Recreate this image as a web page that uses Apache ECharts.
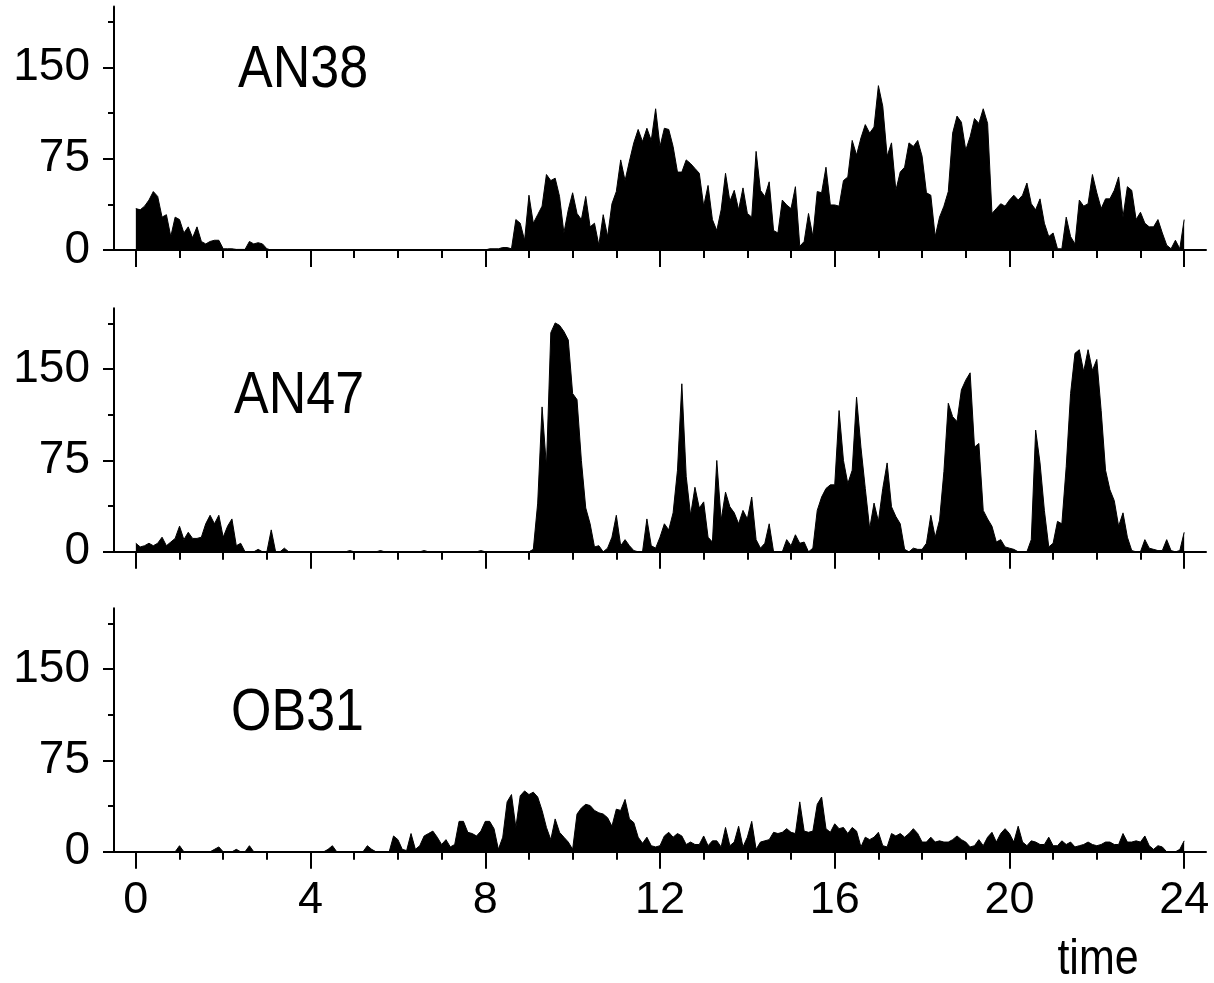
<!DOCTYPE html>
<html>
<head>
<meta charset="utf-8">
<script src="https://cdn.jsdelivr.net/npm/echarts@6/dist/echarts.min.js"></script>
<style>
html,body{margin:0;padding:0;background:#fff;}
#chart{width:1214px;height:983px;}
</style>
</head>
<body>
<div id="chart"></div>
<script>
// sampling step of the series (hours)
const STEP = 0.1;

// activity values, one row per hour (t = h.0 ... h.9), last value at t = 24
const AN38 = [
  34, 33, 36, 41, 48, 44, 27, 29, 11, 27,
  25, 14, 19, 10, 19, 7, 5, 7, 8, 8,
  1, 1, 1, 0.5, 0.5, 0.5, 7, 5, 6, 5,
  1, 0, 0, 0, 0, 0, 0, 0, 0, 0,
  0, 0, 0, 0, 0, 0, 0, 0, 0, 0,
  0, 0, 0, 0, 0, 0, 0, 0, 0, 0,
  0, 0, 0, 0, 0, 0, 0, 0, 0, 0,
  0, 0, 0, 0, 0, 0, 0, 0, 0, 0,
  0, 1, 1, 1, 2, 2, 1, 25, 22, 8,
  45, 22, 29, 36, 62, 57, 59, 44, 14, 33,
  47, 30, 25, 44, 19, 22, 4, 29, 11, 38,
  48, 74, 57, 73, 88, 99, 89, 100, 90, 116,
  85, 100, 99, 85, 64, 64, 74, 71, 67, 63,
  36, 53, 25, 16, 33, 63, 40, 49, 33, 51,
  30, 27, 81, 49, 44, 56, 16, 14, 41, 37,
  34, 52, 3, 7, 30, 11, 48, 47, 68, 37,
  37, 36, 57, 60, 90, 78, 92, 103, 96, 101,
  135, 118, 77, 88, 49, 64, 68, 88, 85, 90,
  77, 47, 45, 11, 27, 36, 48, 96, 110, 105,
  82, 93, 108, 104, 116, 104, 30, 34, 38, 36,
  41, 45, 41, 45, 55, 38, 33, 42, 22, 11,
  14, 1, 1, 27, 11, 5, 41, 36, 38, 62,
  47, 34, 42, 42, 49, 60, 27, 52, 49, 25,
  31, 22, 19, 19, 25, 14, 4, 1, 8, 1,
  25
];

const AN47 = [
  7, 4, 5, 7, 5, 7, 12, 5, 8, 11,
  21, 10, 16, 11, 11, 12, 23, 30, 23, 30,
  12, 21, 27, 5, 7, 0, 0, 0, 2, 0,
  0, 18, 0, 0, 3, 0, 0, 0, 0, 0,
  0, 0, 0, 0, 0, 0, 0, 0, 0, 1,
  0, 0, 0, 0, 0, 0, 1, 0, 0, 0,
  0, 0, 0, 0, 0, 0, 1, 0, 0, 0,
  0, 0, 0, 0, 0, 0, 0, 0, 0, 1,
  0, 0, 0, 0, 0, 0, 0, 0, 0, 0,
  0, 2, 40, 119, 70, 180, 188, 186, 181, 174,
  130, 125, 75, 36, 23, 4, 5, 0, 3, 12,
  30, 5, 10, 5, 1, 0, 0, 27, 5, 3,
  12, 23, 18, 32, 67, 138, 62, 30, 53, 36,
  41, 12, 8, 75, 26, 49, 37, 32, 23, 34,
  27, 45, 10, 3, 7, 23, 0, 0, 0, 10,
  5, 14, 7, 8, 0, 3, 34, 45, 52, 55,
  55, 116, 75, 56, 67, 127, 86, 52, 19, 40,
  25, 52, 73, 37, 29, 23, 2, 0, 3, 2,
  2, 7, 30, 12, 26, 66, 122, 111, 107, 133,
  141, 147, 86, 89, 34, 27, 21, 8, 10, 4,
  3, 2, 0, 0, 0, 10, 100, 73, 34, 4,
  7, 25, 23, 70, 130, 163, 166, 148, 166, 149,
  158, 116, 67, 51, 42, 21, 32, 12, 1, 0,
  0, 10, 3, 2, 1, 1, 10, 1, 0, 1,
  16
];

const OB31 = [
  0, 0, 0, 0, 0, 0, 0, 0, 0, 0,
  5, 0, 0, 0, 0, 0, 0, 0, 2, 4,
  0, 0, 0, 2, 0, 0, 5, 0, 0, 0,
  0, 0, 0, 0, 0, 0, 0, 0, 0, 0,
  0, 0, 0, 0, 2, 5, 0, 0, 0, 0,
  0, 0, 0, 5, 2, 0, 0, 0, 0, 13,
  10, 2, 1, 15, 2, 5, 13, 15, 17, 12,
  6, 10, 4, 6, 25, 25, 16, 15, 13, 17,
  25, 25, 19, 2, 12, 41, 47, 20, 46, 50,
  47, 49, 45, 34, 20, 10, 27, 16, 12, 8,
  2, 31, 36, 39, 38, 34, 32, 31, 28, 21,
  35, 34, 43, 27, 24, 12, 7, 12, 5, 4,
  5, 13, 16, 12, 15, 13, 6, 8, 6, 6,
  13, 5, 9, 9, 4, 20, 5, 8, 21, 4,
  12, 25, 2, 8, 9, 10, 16, 15, 16, 19,
  16, 15, 41, 17, 16, 17, 39, 45, 19, 16,
  23, 19, 20, 15, 20, 17, 4, 12, 10, 12,
  16, 5, 4, 15, 13, 15, 12, 15, 19, 15,
  8, 8, 12, 8, 9, 8, 8, 10, 13, 10,
  8, 4, 5, 10, 5, 12, 16, 8, 15, 19,
  15, 8, 21, 8, 5, 9, 8, 6, 6, 12,
  5, 5, 9, 6, 8, 4, 5, 6, 8, 6,
  5, 6, 8, 8, 6, 6, 15, 8, 8, 9,
  8, 13, 5, 2, 5, 4, 0, 0, 0, 2,
  9
];

const PANEL_NAMES = ['AN38', 'AN47', 'OB31'];
const X_MAJOR_TICKS = [0, 4, 8, 12, 16, 20, 24];
const X_MINOR_TICKS = [0, 1, 2, 3, 4, 5, 6, 7, 8, 9, 10, 11, 12, 13, 14, 15, 16, 17, 18, 19, 20, 21, 22, 23, 24];
const Y_MAJOR_TICKS = [0, 75, 150];
const Y_MINOR_TICKS = [37.5, 112.5, 187.5];
const X_TITLE = 'time';

const SERIES_DATA = [AN38, AN47, OB31];
const FONT = '"Liberation Sans", Arial, Helvetica, sans-serif';

const chart = echarts.init(document.getElementById('chart'), null, {renderer: 'canvas'});

const GRID_TOPS = [6.5, 308.3, 608.3];
const GRID_H = 243.5;
const grids = [], xAxes = [], yAxes = [], series = [];
const black = '#000';

GRID_TOPS.forEach((top, i) => {
  grids.push({left: 114, top: top, width: 1092, height: GRID_H, containLabel: false});
  const isLast = i === GRID_TOPS.length - 1;
  // main x axis (major ticks + labels)
  xAxes.push({
    type: 'value', gridIndex: i, min: -0.5, max: 24.5, position: 'bottom',
    axisLine: {show: true, onZero: false, lineStyle: {color: black, width: 2}},
    axisTick: {show: true, customValues: X_MAJOR_TICKS, length: 17, lineStyle: {color: black, width: 2}},
    axisLabel: {show: isLast, customValues: X_MAJOR_TICKS, fontSize: 45, color: black, fontFamily: FONT, margin: 26},
    splitLine: {show: false}
  });
  // hourly minor ticks
  xAxes.push({
    type: 'value', gridIndex: i, min: -0.5, max: 24.5, position: 'bottom', offset: 0,
    axisLine: {show: false, onZero: false},
    axisTick: {show: true, customValues: X_MINOR_TICKS, length: 8, lineStyle: {color: black, width: 2}},
    axisLabel: {show: false},
    splitLine: {show: false}
  });
  yAxes.push({
    type: 'value', gridIndex: i, min: 0, max: 200, position: 'left',
    axisLine: {show: true, onZero: false, lineStyle: {color: black, width: 2}},
    axisTick: {show: true, customValues: Y_MAJOR_TICKS, length: 11, lineStyle: {color: black, width: 2}},
    axisLabel: {show: true, customValues: Y_MAJOR_TICKS, fontSize: 46, color: black, fontFamily: FONT, margin: 24},
    splitLine: {show: false}
  });
  // minor y ticks
  yAxes.push({
    type: 'value', gridIndex: i, min: 0, max: 200, position: 'left', offset: 0,
    axisLine: {show: false, onZero: false},
    axisTick: {show: true, customValues: Y_MINOR_TICKS, length: 6, lineStyle: {color: black, width: 2}},
    axisLabel: {show: false},
    splitLine: {show: false}
  });
  series.push({
    type: 'line', name: PANEL_NAMES[i],
    xAxisIndex: i * 2, yAxisIndex: i * 2,
    data: SERIES_DATA[i].map((v, k) => [k * STEP, v]),
    showSymbol: false, symbol: 'none', sampling: null,
    lineStyle: {color: black, width: 1},
    areaStyle: {color: black, opacity: 1},
    animation: false, z: 1
  });
});

const LABEL_POS = [[238, 71], [234, 397], [231, 714]];
const graphics = PANEL_NAMES.map((name, i) => ({
  type: 'text', x: LABEL_POS[i][0], y: LABEL_POS[i][1], scaleY: 1.15,
  style: {text: name, font: '52px ' + FONT, fill: black, textAlign: 'left', textVerticalAlign: 'middle'}
}));
graphics.push({
  type: 'text', x: 1098, y: 960, scaleY: 1.15,
  style: {text: X_TITLE, font: '43px ' + FONT, fill: black, textAlign: 'center', textVerticalAlign: 'middle'}
});

chart.setOption({
  animation: false,
  backgroundColor: '#fff',
  grid: grids,
  xAxis: xAxes,
  yAxis: yAxes,
  series: series,
  graphic: graphics
});
</script>
</body>
</html>
